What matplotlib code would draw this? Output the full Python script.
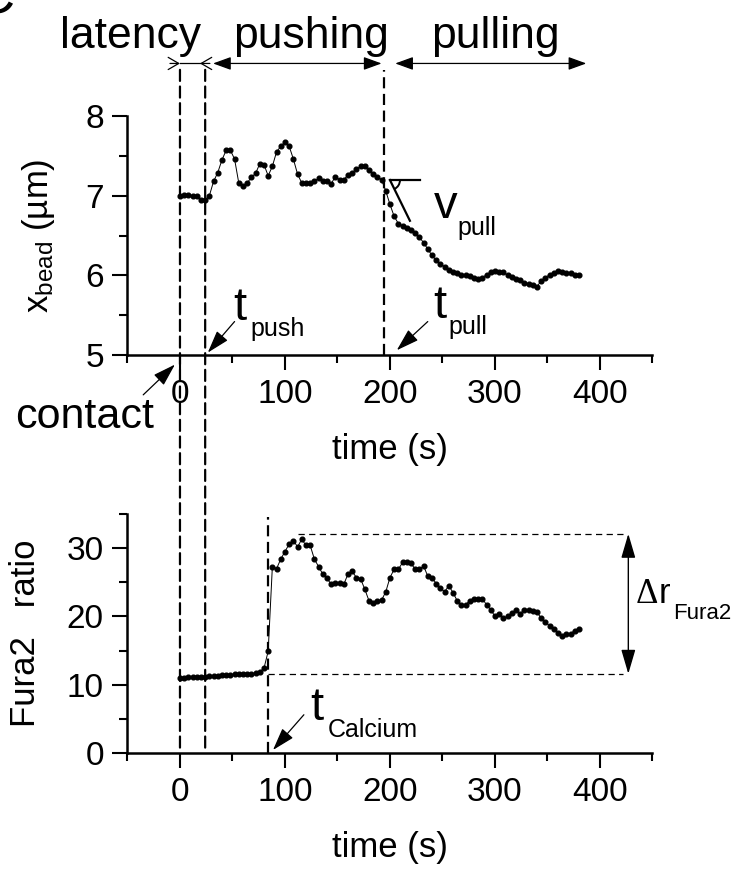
import matplotlib
matplotlib.use('Agg')
import matplotlib.pyplot as plt
import matplotlib.transforms as mtransforms
from matplotlib.patches import ConnectionPatch, Arc
from matplotlib.ticker import MultipleLocator

plt.rcParams['font.family'] = ['Liberation Sans', 'DejaVu Sans']
plt.rcParams['mathtext.fontset'] = 'custom'
plt.rcParams['mathtext.rm'] = 'Liberation Sans'

# sampling times (s), both recordings every 4 s
time_s = [0, 4, 8, 12, 16, 20, 24, 28, 32, 36, 40, 44, 48, 52, 56, 60, 64, 68, 72, 76,
          80, 84, 88, 92, 96, 100, 104, 108, 112, 116, 120, 124, 128, 132, 136, 140, 144, 148, 152, 156,
          160, 164, 168, 172, 176, 180, 184, 188, 192, 196, 200, 204, 208, 212, 216, 220, 224, 228, 232, 236,
          240, 244, 248, 252, 256, 260, 264, 268, 272, 276, 280, 284, 288, 292, 296, 300, 304, 308, 312, 316,
          320, 324, 328, 332, 336, 340, 344, 348, 352, 356, 360, 364, 368, 372, 376, 380]

# bead position (um)
x_bead = [7.00, 7.01, 7.01, 7.00, 6.99, 6.95, 6.94, 7.00,
          7.18, 7.29, 7.45, 7.57, 7.57, 7.46, 7.16, 7.12,
          7.16, 7.23, 7.28, 7.40, 7.39, 7.25, 7.37, 7.55,
          7.62, 7.67, 7.62, 7.46, 7.27, 7.16, 7.16, 7.16,
          7.18, 7.22, 7.18, 7.19, 7.15, 7.24, 7.20, 7.20,
          7.26, 7.29, 7.33, 7.37, 7.37, 7.32, 7.27, 7.24,
          7.20, 7.06, 6.89, 6.74, 6.65, 6.62, 6.59, 6.57,
          6.53, 6.48, 6.41, 6.33, 6.25, 6.19, 6.14, 6.11,
          6.07, 6.04, 6.03, 6.01, 6.00, 5.99, 5.97, 5.95,
          5.97, 6.01, 6.04, 6.05, 6.04, 6.04, 6.00, 5.98,
          5.96, 5.94, 5.90, 5.89, 5.88, 5.86, 5.93, 5.97,
          6.01, 6.03, 6.05, 6.04, 6.03, 6.03, 6.01, 6.00]

# Fura2 ratio
fura2 = [11.0, 11.0, 11.1, 11.1, 11.2, 11.2, 11.2, 11.3, 11.3, 11.3,
         11.4, 11.4, 11.4, 11.5, 11.5, 11.5, 11.6, 11.6, 11.7, 11.9, 12.4,
         14.9, 27.3, 27.0, 28.4, 29.5, 30.6, 31.1, 30.2, 31.3, 30.4,
         30.4, 28.4, 27.3, 26.2, 25.6, 24.7, 24.9, 24.9, 24.7, 26.2,
         26.6, 25.7, 25.5, 24.0, 22.3, 22.0, 22.3, 22.4, 23.6, 25.7,
         26.9, 26.9, 27.9, 27.9, 27.8, 26.9, 26.9, 27.4, 25.9, 25.7,
         24.8, 24.2, 23.6, 24.5, 23.5, 22.3, 21.7, 21.7, 22.3, 22.5,
         22.6, 22.6, 21.7, 21.0, 20.0, 20.4, 19.7, 20.0, 20.5, 20.9,
         20.4, 21.0, 20.9, 20.8, 20.7, 19.7, 19.2, 18.6, 18.1, 17.6,
         17.2, 17.4, 17.5, 17.9, 18.1]

# event times (s) and Fura2 levels
t_contact = 0
t_push = 24
t_pull = 194
t_calcium = 84
fura_base = 11.6
fura_peak = 32.1

fig = plt.figure(figsize=(7.45, 8.77), dpi=100)
ax1 = fig.add_axes([0.1711, 0.5952, 0.7047, 0.2725])
ax2 = fig.add_axes([0.1711, 0.1414, 0.7047, 0.2725])

for ax in (ax1, ax2):
    ax.spines['top'].set_visible(False)
    ax.spines['right'].set_visible(False)
    ax.spines['left'].set_linewidth(1.8)
    ax.spines['bottom'].set_linewidth(1.8)
    ax.set_xlim(-50, 450)
    ax.xaxis.set_major_locator(MultipleLocator(100))
    ax.xaxis.set_minor_locator(MultipleLocator(50))
    ax.tick_params(which='major', direction='out', length=11, width=1.5, labelsize=24, pad=6)
    ax.tick_params(which='minor', direction='out', length=5.5, width=1.5)
    ax.set_xlabel('time (s)', fontsize=25, labelpad=17)

ax1.set_ylim(5, 8)
ax1.yaxis.set_major_locator(MultipleLocator(1))
ax1.yaxis.set_minor_locator(MultipleLocator(0.5))
ax1.set_ylabel(r'$\mathregular{x_{bead}}$ (µm)', fontsize=25, labelpad=20)

ax2.set_ylim(0, 35)
ax2.yaxis.set_major_locator(MultipleLocator(10))
ax2.yaxis.set_minor_locator(MultipleLocator(5))
ax2.set_ylabel('Fura2   ratio', fontsize=25, labelpad=18)

ax1.plot(time_s, x_bead, '-o', color='black', lw=0.7, ms=3.4, zorder=3)
ax2.plot(time_s, fura2, '-o', color='black', lw=0.7, ms=3.4, zorder=3)

dash = (0, (5, 2.5))
y_top = 8.58
# contact and t_push lines run through both panels
for tv in (t_contact, t_push):
    con = ConnectionPatch(xyA=(tv, y_top), coordsA=ax1.transData,
                          xyB=(tv, 0), coordsB=ax2.transData,
                          color='black', lw=1.6, linestyle=dash)
    fig.add_artist(con)
ax1.plot([t_pull, t_pull], [5, y_top], color='black', lw=1.6, linestyle=dash, clip_on=False)
ax2.plot([t_calcium, t_calcium], [0, 34.6], color='black', lw=1.6, linestyle=dash, clip_on=False)

# phase arrows on top
y_arr = 8.66
kw = dict(color='black', lw=0.9, shrinkA=0, shrinkB=0)
open_head = '->,head_length=0.38,head_width=0.22'
ax1.annotate('', xy=(0, y_arr), xytext=(-9.5, y_arr), annotation_clip=False,
             arrowprops=dict(arrowstyle=open_head, mutation_scale=20, **kw))
ax1.annotate('', xy=(19, y_arr), xytext=(28.5, y_arr), annotation_clip=False,
             arrowprops=dict(arrowstyle=open_head, mutation_scale=20, **kw))
ax1.plot([0, 19], [y_arr, y_arr], color='black', lw=0.9, clip_on=False)
ax1.annotate('', xy=(31.5, y_arr), xytext=(192, y_arr), annotation_clip=False,
             arrowprops=dict(arrowstyle='<|-|>,head_length=0.55,head_width=0.2',
                             mutation_scale=20, **kw))
ax1.annotate('', xy=(205, y_arr), xytext=(387, y_arr), annotation_clip=False,
             arrowprops=dict(arrowstyle='<|-|>,head_length=0.55,head_width=0.2',
                             mutation_scale=20, **kw))
ax1.text(-46.7, 8.86, 'latency', fontsize=32, ha='center', va='baseline', clip_on=False)
ax1.text(124.8, 8.86, 'pushing', fontsize=32, ha='center', va='baseline', clip_on=False)
ax1.text(300, 8.86, 'pulling', fontsize=32, ha='center', va='baseline', clip_on=False)

# t_push / t_pull markers
arrow_kw = dict(arrowstyle='-|>,head_length=0.7,head_width=0.22', color='black',
                lw=0.9, mutation_scale=20, shrinkA=0, shrinkB=0)
ax1.annotate('', xy=(26.5, 5.03), xytext=(52, 5.42), annotation_clip=False, arrowprops=arrow_kw)
ax1.text(50.5, 5.44, 't', fontsize=34, ha='left', va='baseline')
ax1.text(67.6, 5.24, 'push', fontsize=18, ha='left', va='baseline')
ax1.annotate('', xy=(206.5, 5.06), xytext=(236, 5.42), annotation_clip=False, arrowprops=arrow_kw)
ax1.text(241, 5.46, 't', fontsize=34, ha='left', va='baseline')
ax1.text(256, 5.26, 'pull', fontsize=18, ha='left', va='baseline')

# contact
ax1.annotate('', xy=(-4.8, 4.88), xytext=(-35, 4.5), annotation_clip=False, arrowprops=arrow_kw)
ax1.text(-157, 4.08, 'contact', fontsize=31, ha='left', va='baseline', clip_on=False)

# v_pull slope mark
ax1.plot([200, 228.6], [7.196, 7.196], color='black', lw=1.6)
ax1.plot([200, 219], [7.196, 6.685], color='black', lw=1.6)
arc_tr = fig.dpi_scale_trans + mtransforms.ScaledTranslation(200, 7.196, ax1.transData)
ax1.add_patch(Arc((0, 0), 0.2, 0.2, theta1=-64, theta2=0, transform=arc_tr, color='black', lw=1.4))
ax1.text(242, 6.72, 'v', fontsize=34, ha='left', va='baseline')
ax1.text(263.8, 6.51, 'pull', fontsize=18, ha='left', va='baseline')

# Fura2 amplitude
ax2.plot([112.7, 422], [fura_peak, fura_peak], color='black', lw=0.9, linestyle=(0, (5, 3.5)), clip_on=False)
ax2.plot([t_calcium, 422], [fura_base, fura_base], color='black', lw=0.9, linestyle=(0, (5, 3.5)), clip_on=False)
ax2.annotate('', xy=(427, fura_peak), xytext=(427, fura_base), annotation_clip=False,
             arrowprops=dict(arrowstyle='<|-|>,head_length=0.75,head_width=0.22', color='black',
                             lw=1.0, mutation_scale=20, shrinkA=0, shrinkB=0))
ax2.text(434, 21.96, 'Δ', fontsize=25, family='Liberation Serif', ha='left', va='baseline', clip_on=False)
ax2.text(456, 21.96, 'r', fontsize=25, ha='left', va='baseline', clip_on=False)
ax2.text(469.5, 19.6, 'Fura2', fontsize=16, ha='left', va='baseline', clip_on=False)

# t_Calcium
ax2.annotate('', xy=(88.6, 0.44), xytext=(118, 5.6), annotation_clip=False, arrowprops=arrow_kw)
ax2.text(124, 4.8, 't', fontsize=34, ha='left', va='baseline')
ax2.text(141, 2.3, 'Calcium', fontsize=18, ha='left', va='baseline')

# panel letter, cut by the frame
fig.text(-0.035, 1.03, 'C', fontsize=40, ha='left', va='top')

fig.savefig('out.png', dpi=100)
